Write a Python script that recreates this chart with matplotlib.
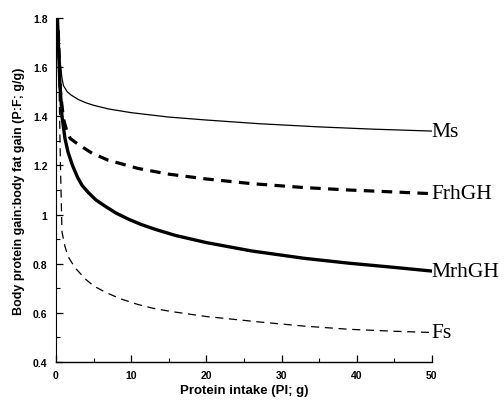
import numpy as np
import matplotlib
matplotlib.use('Agg')
import matplotlib.pyplot as plt
from matplotlib.ticker import MultipleLocator

# curves (protein intake in g vs P:F ratio)
ms_x = [0.3, 0.5, 0.8, 1, 1.5, 2, 3, 4, 5, 7, 10, 15, 20, 27, 35, 42, 50]
ms_y = [1.78, 1.64, 1.555, 1.525, 1.5, 1.487, 1.468, 1.455, 1.445, 1.43, 1.415, 1.397, 1.385, 1.37, 1.357, 1.348, 1.34]

frh_x = [0.3, 0.6, 1, 1.4, 1.9, 3, 4.8, 6.9, 10.9, 14.9, 20, 26, 33, 39, 45, 50]
frh_y = [1.75, 1.5, 1.39, 1.345, 1.31, 1.285, 1.25, 1.222, 1.188, 1.165, 1.145, 1.126, 1.11, 1.1, 1.092, 1.085]

mrh_x = [0.2, 0.5, 0.8, 1.2, 1.6, 2.2, 2.9, 3.5, 4.3, 5.3, 6.5, 8, 9.6, 11.3, 13.2, 15.9, 20, 26, 33, 39, 45, 50]
mrh_y = [1.8, 1.55, 1.4, 1.31, 1.255, 1.2, 1.15, 1.118, 1.09, 1.06, 1.035, 1.006, 0.982, 0.96, 0.94, 0.915, 0.886, 0.852, 0.822, 0.802, 0.785, 0.77]

fs_x = [0.4, 0.6, 0.8, 1.2, 1.6, 2.5, 3.9, 5, 6.5, 8.5, 10.9, 13, 15.4, 20, 27, 33, 39, 45, 50]
fs_y = [1.55, 1.2, 0.93, 0.87, 0.83, 0.785, 0.738, 0.71, 0.685, 0.658, 0.634, 0.618, 0.605, 0.585, 0.563, 0.546, 0.533, 0.525, 0.52]

labels = ['Ms', 'FrhGH', 'MrhGH', 'Fs']

fig = plt.figure(figsize=(5.04, 4.06), dpi=100)
ax = fig.add_axes([0.111, 0.106, 0.746, 0.847])

ax.plot(ms_x, ms_y, color='black', lw=0.9)
ax.plot(frh_x, frh_y, color='black', lw=2.3, dashes=(3.3, 2.3))
ax.plot(mrh_x, mrh_y, color='black', lw=2.4, solid_joinstyle='round')
ax.plot(fs_x, fs_y, color='black', lw=0.9, dashes=(6.5, 4.5))

ends = [ms_y[-1], frh_y[-1], mrh_y[-1], fs_y[-1]]
for lab, yv in zip(labels, ends):
    ax.text(50, yv, lab, ha='left', va='center', fontsize=15.5,
            family='Liberation Serif', clip_on=False)

ax.set_xlim(0, 50)
ax.set_ylim(0.4, 1.8)
ax.spines['top'].set_visible(False)
ax.spines['right'].set_visible(False)
ax.spines['left'].set_linewidth(0.8)
ax.spines['bottom'].set_linewidth(1.0)

ax.xaxis.set_major_locator(MultipleLocator(10))
ax.xaxis.set_minor_locator(MultipleLocator(5))
ax.yaxis.set_minor_locator(MultipleLocator(0.1))
ax.set_yticks([0.4, 0.6, 0.8, 1.0, 1.2, 1.4, 1.6, 1.8])
ax.set_yticklabels(['0.4', '0.6', '0.8', '1', '1.2', '1.4', '1.6', '1.8'])

ax.tick_params(which='major', direction='in', length=5, width=0.9, pad=6)
ax.tick_params(which='minor', direction='in', length=3, width=0.8)
for t in ax.get_xticklabels() + ax.get_yticklabels():
    t.set_fontsize(7.5)
    t.set_fontweight('bold')
    t.set_family('Liberation Sans')

ax.set_xlabel('Protein intake (PI; g)', fontsize=9.5, fontweight='bold',
              family='Liberation Sans', labelpad=3)
ax.set_ylabel('Body protein gain:body fat gain (P:F; g/g)', fontsize=9,
              fontweight='bold', family='Liberation Sans', labelpad=6)

fig.savefig('out.png', dpi=100)
